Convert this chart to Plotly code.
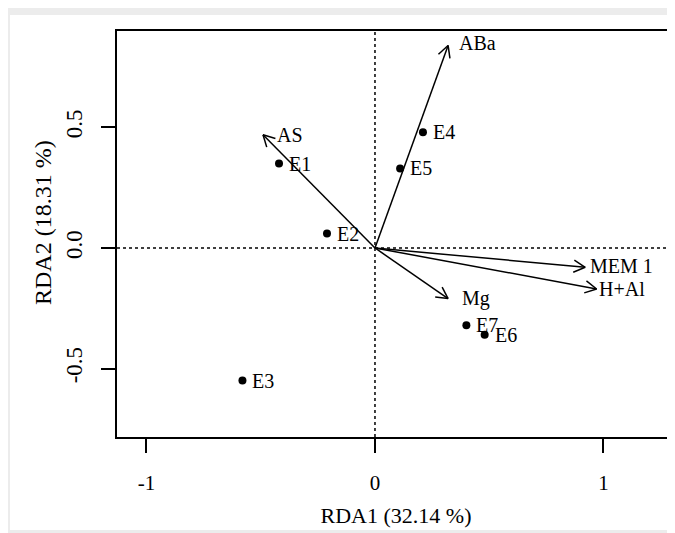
import math
import plotly.graph_objects as go

# Site scores
site_names = ["E1", "E2", "E3", "E4", "E5", "E6", "E7"]
site_x = [-0.42, -0.21, -0.58, 0.21, 0.11, 0.48, 0.40]
site_y = [0.35, 0.06, -0.55, 0.48, 0.33, -0.36, -0.32]

# Biplot arrows (explanatory variables)
var_names = ["ABa", "AS", "MEM 1", "H+Al", "Mg"]
var_x = [0.32, -0.49, 0.92, 0.97, 0.32]
var_y = [0.84, 0.47, -0.08, -0.17, -0.21]
var_label_x = [0.45, -0.37, 1.08, 1.08, 0.44]
var_label_y = [0.85, 0.47, -0.074, -0.172, -0.21]

x_tickvals = [-1, 0, 1]
x_ticktext = ["-1", "0", "1"]
y_tickvals = [-0.5, 0.0, 0.5]
y_ticktext = ["-0.5", "0.0", "0.5"]

x_title = "RDA1 (32.14 %)"
y_title = "RDA2 (18.31 %)"

FONT = "Liberation Serif"

W, H = 667, 525
ML, MT, MB = 109, 23, 96
PW, PH = W - ML, H - MT - MB
XR = [-1.129, 1.313]
YR = [-0.784, 0.900]

# pixels per data unit (used to draw R-style open arrowheads)
SX = PW / (XR[1] - XR[0])
SY = PH / (YR[1] - YR[0])
HEAD_LEN = 13      # px
HEAD_ANG = math.radians(28)

arrow_x, arrow_y = [], []
for x, y in zip(var_x, var_y):
    arrow_x += [0, x, None]
    arrow_y += [0, y, None]
    ang = math.atan2(y * SY, x * SX)
    for s in (1, -1):
        a = ang + math.pi + s * HEAD_ANG
        bx = x + HEAD_LEN * math.cos(a) / SX
        by = y + HEAD_LEN * math.sin(a) / SY
        arrow_x += [x, bx, None]
        arrow_y += [y, by, None]

fig = go.Figure()

fig.add_trace(go.Scatter(
    x=arrow_x, y=arrow_y, mode="lines",
    line=dict(color="black", width=1.5),
    showlegend=False, hoverinfo="skip",
))

fig.add_trace(go.Scatter(
    x=site_x, y=site_y, mode="markers",
    marker=dict(color="black", size=8),
    showlegend=False, hoverinfo="skip",
))

annotations = []
for name, x, y in zip(site_names, site_x, site_y):
    annotations.append(dict(
        x=x, y=y, xref="x", yref="y", text=name, showarrow=False,
        font=dict(family=FONT, size=20, color="black"),
        xanchor="left", yanchor="middle", xshift=8,
    ))
for name, lx, ly in zip(var_names, var_label_x, var_label_y):
    annotations.append(dict(
        x=lx, y=ly, xref="x", yref="y", text=name, showarrow=False,
        font=dict(family=FONT, size=20, color="black"),
        xanchor="center", yanchor="middle",
    ))

# y-axis title
annotations.append(dict(
    x=(35 - ML) / PW, y=1 - (215 - MT) / PH, xref="paper", yref="paper",
    text=y_title, showarrow=False, textangle=-90,
    font=dict(family=FONT, size=24, color="black"),
    xanchor="center", yanchor="middle",
))

shapes = [
    # white panel behind plot
    dict(type="rect", xref="paper", yref="paper",
         x0=(2 - ML) / PW, x1=1.05,
         y0=-(522 - (MT + PH)) / PH, y1=1 + (MT - 7) / PH,
         fillcolor="white", line=dict(width=0), layer="below"),
    dict(type="line", xref="x", yref="paper", x0=0, x1=0, y0=0, y1=1,
         line=dict(color="black", width=1.5, dash="dot")),
    dict(type="line", xref="paper", yref="y", x0=0, x1=1, y0=0, y1=0,
         line=dict(color="black", width=1.5, dash="dot")),
]

fig.update_layout(
    width=W, height=H,
    margin=dict(l=ML, r=0, t=MT, b=MB),
    paper_bgcolor="#ececec", plot_bgcolor="white",
    font=dict(family=FONT, size=21, color="black"),
    xaxis=dict(
        range=XR, tickvals=x_tickvals, ticktext=x_ticktext,
        showgrid=False, zeroline=False, showline=True, mirror=True,
        linecolor="black", linewidth=1.5, ticks="outside", ticklen=14,
        tickwidth=1.5, tickcolor="black", ticklabelstandoff=12,
        tickfont=dict(size=21),
        title=dict(text=x_title, font=dict(size=22), standoff=14),
    ),
    yaxis=dict(
        range=YR, tickvals=y_tickvals, ticktext=y_ticktext,
        showgrid=False, zeroline=False, showline=True, mirror=False,
        linecolor="black", linewidth=1.5, ticks="outside", ticklen=14,
        tickwidth=1.5, tickcolor="black", tickangle=-90,
        ticklabelstandoff=10, tickfont=dict(size=23),
    ),
    annotations=annotations,
    shapes=shapes,
)

fig.write_html("out.html")
